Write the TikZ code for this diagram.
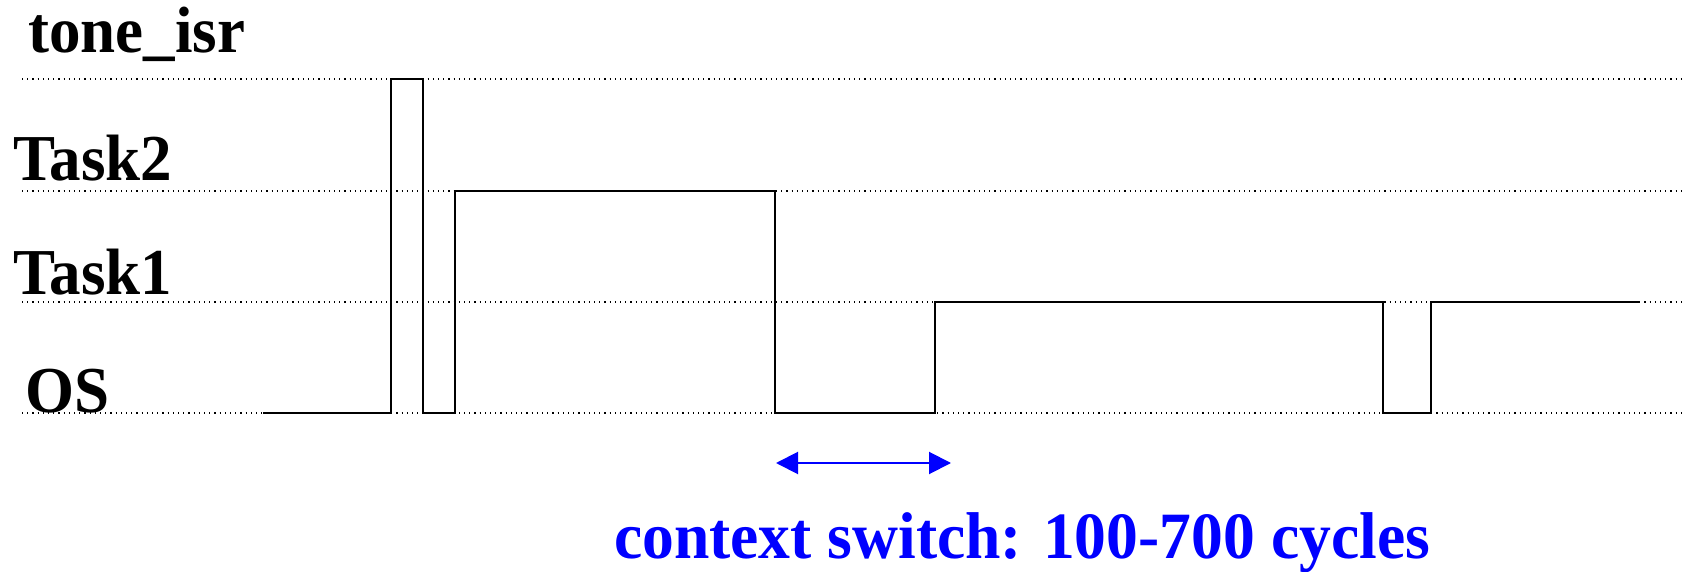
\documentclass[tikz,border=0pt]{standalone}
\usepackage{fontspec}
\usepackage{graphicx}
\setmainfont{Liberation Serif}
\usetikzlibrary{arrows.meta}
\definecolor{pureblue}{RGB}{0,0,255}
% bold serif text, a little taller than its natural shape
\newcommand{\tallbf}[2]{\scalebox{1}[1.04]{\fontsize{#1}{#1}\selectfont\bfseries #2}}
\tikzset{
  lanelabel/.style={anchor=base west, inner sep=0pt},
  laneline/.style={dotted, line width=0.6pt},
  signal/.style={line width=0.8pt, line join=miter},
  note/.style={anchor=base, inner sep=0pt, text=pureblue},
  span/.style={pureblue, line width=1pt, {Triangle[length=11pt,width=11pt]}-{Triangle[length=11pt,width=11pt]}}
}
\begin{document}
\begin{tikzpicture}[x=0.5pt,y=-0.5pt]
  \useasboundingbox (0,0) rectangle (1683,572);
  % lane levels
  \def\yisr{79}\def\ytwo{191}\def\yone{302}\def\yos{413}
  % lane labels
  \node[lanelabel] (lisr) at (28,53) {\tallbf{31.5pt}{tone\_isr}};
  \node[lanelabel] (ltwo) at (13,181) {\tallbf{31.5pt}{Task2}};
  \node[lanelabel] (lone) at (13,295) {\tallbf{31.5pt}{Task1}};
  \node[lanelabel] (los)  at (25,413) {\tallbf{31.5pt}{OS}};
  % dotted lane lines
  \foreach \yy in {\yisr,\ytwo,\yone,\yos}
    \draw[laneline] (22,\yy) -- (1683,\yy);
  % execution trace
  \draw[signal] (263,\yos) -- (391,\yos) -- (391,\yisr) -- (423,\yisr) -- (423,\yos)
    -- (455,\yos) -- (455,\ytwo) -- (775,\ytwo) -- (775,\yos) -- (935,\yos)
    -- (935,\yone) -- (1383,\yone) -- (1383,\yos) -- (1431,\yos) -- (1431,\yone)
    -- (1639,\yone);
  % context switch span
  \coordinate (csa) at (776,463);
  \coordinate (csb) at (951,463);
  \draw[span] (csa) -- (csb);
  \node[note] (cslabel) at (1022,558) {\tallbf{31.8pt}{context switch: 100-700 cycles}};
\end{tikzpicture}
\end{document}
